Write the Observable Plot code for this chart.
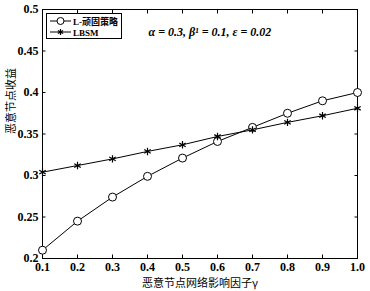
<!DOCTYPE html>
<html><head><meta charset="utf-8">
<script src="https://cdn.jsdelivr.net/npm/d3@7"></script>
<script src="https://cdn.jsdelivr.net/npm/@observablehq/plot@0.6"></script>
<style>
body{margin:0;background:#fff;}
#wrap{position:relative;width:370px;height:291px;}
#legend{position:absolute;left:46px;top:13px;width:74px;height:24px;border:1px solid #000;background:#fff;}
svg text{font-family:"Liberation Serif",serif;}
svg text.cjk{font-family:"Noto Sans CJK SC",sans-serif;}
</style></head>
<body><div id="wrap"><div id="legend"></div></div>
<script>
const gamma = [0.1,0.2,0.3,0.4,0.5,0.6,0.7,0.8,0.9,1.0];
const stubborn = [0.210,0.245,0.274,0.299,0.321,0.341,0.358,0.375,0.390,0.400];
const lbsm = [0.304,0.312,0.320,0.329,0.337,0.347,0.355,0.364,0.372,0.381];
const seriesNames = ["L-顽固策略","LBSM"];
const xTicks = [0.1,0.2,0.3,0.4,0.5,0.6,0.7,0.8,0.9,1.0];
const yTicks = [0.2,0.25,0.3,0.35,0.4,0.45,0.5];
const annotation = "α = 0.3, β¹ = 0.1, ε = 0.02";
const xLabel = "恶意节点网络影响因子γ";
const yLabel = "恶意节点收益";

const data = [];
gamma.forEach((g,i)=>{
  data.push({g, v: stubborn[i], s: seriesNames[0]});
  data.push({g, v: lbsm[i], s: seriesNames[1]});
});
const fmtX = d => d.toFixed(1);
const fmtY = d => String(+d.toFixed(2));
const serif = '"Liberation Serif",serif';
const cjk = '"Noto Sans CJK SC",sans-serif';

const chart = Plot.plot({
  width: 370, height: 291,
  marginLeft: 42, marginRight: 13, marginTop: 9, marginBottom: 33,
  style: {fontFamily: serif, background: "#fff", color: "#000"},
  x: {domain: [0.1, 1.0]},
  y: {domain: [0.2, 0.5]},
  marks: [
    Plot.frame({stroke: "#000", strokeWidth: 1}),
    Plot.axisX(xTicks, {tickSize: 0, tickPadding: 4, tickFormat: fmtX, fontSize: 12, fontWeight: "bold", fontFamily: serif, label: null}),
    Plot.axisX(xTicks, {tickSize: -3.5, text: null, label: null}),
    Plot.axisX(xTicks, {anchor: "top", tickSize: -3.5, text: null, label: null}),
    Plot.axisY(yTicks, {tickSize: 0, tickPadding: 4, tickFormat: fmtY, fontSize: 12, fontWeight: "bold", fontFamily: serif, label: null}),
    Plot.axisY(yTicks, {tickSize: -3.5, text: null, label: null}),
    Plot.axisY(yTicks, {anchor: "right", tickSize: -3.5, text: null, label: null}),
    Plot.line(data, {x: "g", y: "v", z: "s", stroke: "#000", strokeWidth: 1}),
    Plot.dot(data.filter(d=>d.s===seriesNames[0]), {x: "g", y: "v", r: 4, stroke: "#000", fill: "#fff", strokeWidth: 1}),
    Plot.dot(data.filter(d=>d.s===seriesNames[1]), {x: "g", y: "v", r: 3.5, symbol: "asterisk", stroke: "#000", strokeWidth: 1.2}),
    Plot.text([annotation], {frameAnchor: "top-left", dx: 106, dy: 18, fontSize: 12, fontWeight: "bold", fontStyle: "italic", textAnchor: "start", fontFamily: serif}),
    Plot.text([xLabel], {frameAnchor: "bottom", dy: 28, fontSize: 11, fontFamily: cjk}),
    Plot.text([yLabel], {frameAnchor: "left", dx: -31, rotate: -90, fontSize: 11, fontFamily: cjk})
  ]
});
chart.querySelectorAll("text").forEach(t => {
  if (/[\u4e00-\u9fff]/.test(t.textContent)) t.classList.add("cjk");
});
document.getElementById("wrap").prepend(chart);

// legend
const lg = d3.select("#legend").append("svg").attr("width",74).attr("height",24);
const rows = [{name: seriesNames[0], sym: "circle"}, {name: seriesNames[1], sym: "star"}];
rows.forEach((r,i)=>{
  const y = 7 + i*11;
  lg.append("line").attr("x1",3).attr("x2",24).attr("y1",y).attr("y2",y).attr("stroke","#000");
  if (r.sym === "circle") lg.append("circle").attr("cx",13.5).attr("cy",y).attr("r",3.5).attr("fill","#fff").attr("stroke","#000");
  else lg.append("path").attr("d", d3.symbol(d3.symbolAsterisk, 25)()).attr("transform",`translate(13.5,${y})`).attr("stroke","#000").attr("stroke-width",1.2);
  lg.append("text").attr("x",26).attr("y",y+3.5).attr("font-size",9).attr("font-weight","bold")
    .style("font-family", '"Liberation Serif","Noto Sans CJK SC",serif').text(r.name);
});
</script></body></html>
